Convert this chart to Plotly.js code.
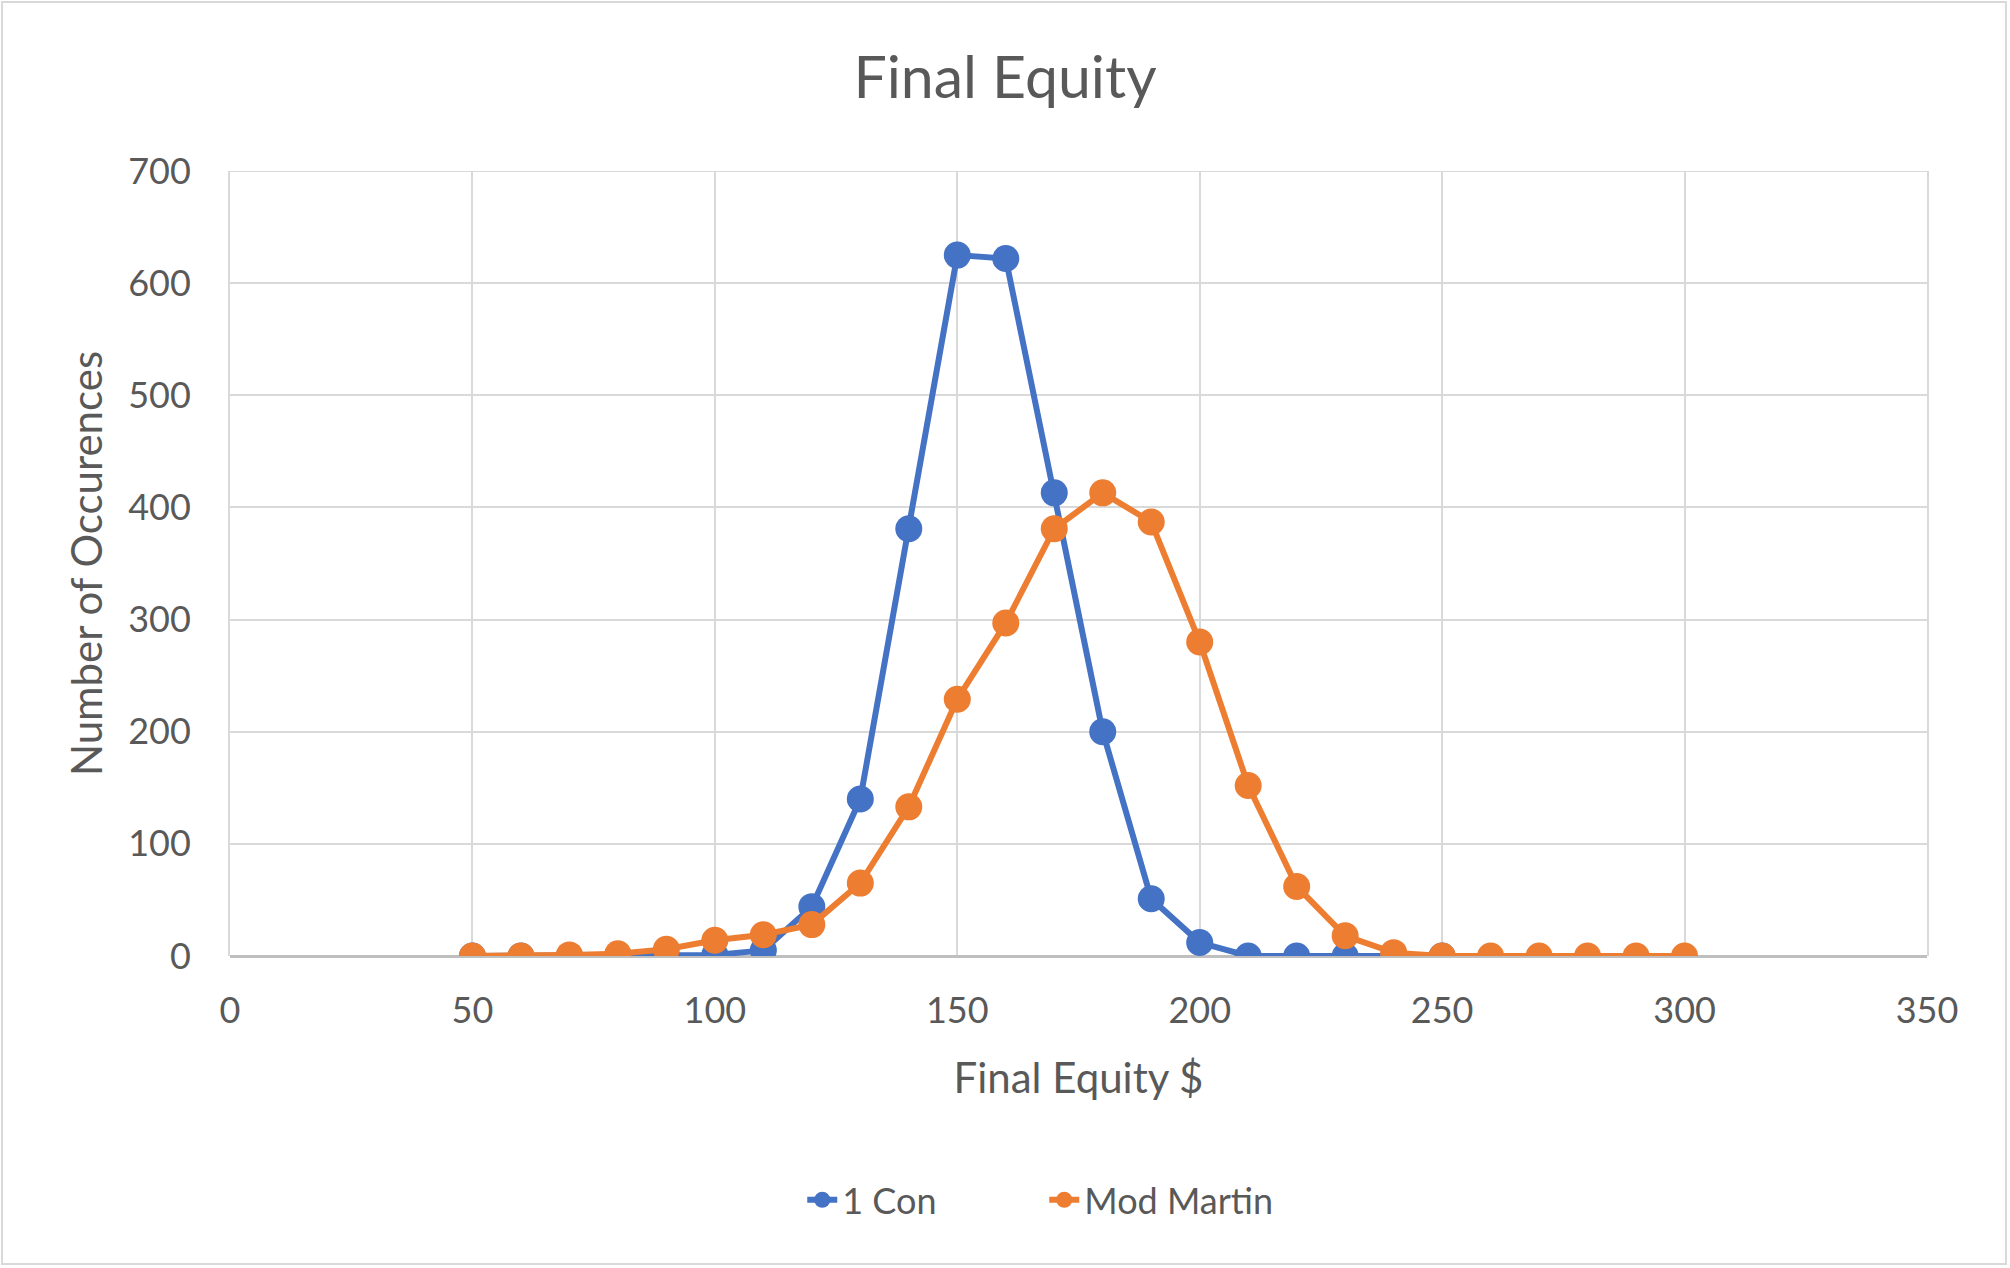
<!DOCTYPE html>
<html>
<head>
<meta charset="utf-8">
<script src="https://cdn.plot.ly/plotly-3.0.1.min.js"></script>
<style>
  html, body { margin: 0; padding: 0; background: #ffffff; }
  #wrap { position: relative; width: 2010px; height: 1268px; }
  #chart { width: 2010px; height: 1268px; }
  #frame { position: absolute; left: 1px; top: 1px; width: 2006px; height: 1264px;
           border: 2px solid #D9D9D9; box-sizing: border-box; pointer-events: none; }
</style>
</head>
<body>
<div id="wrap">
  <div id="chart"></div>
  <div id="frame"></div>
</div>
<script>
// ---- data ----
const oneConX = [50, 60, 70, 80, 90, 100, 110, 120, 130, 140, 150, 160, 170, 180, 190, 200, 210, 220, 230, 240, 250];
const oneConY = [0, 0, 0, 0, 0, 1, 5, 44, 140, 381, 625, 622, 413, 200, 51, 12, 0, 0, 0, 0, 0];
const modMartinX = [50, 60, 70, 80, 90, 100, 110, 120, 130, 140, 150, 160, 170, 180, 190, 200, 210, 220, 230, 240, 250, 260, 270, 280, 290, 300];
const modMartinY = [0, 0, 1, 2, 6, 14, 19, 28, 65, 133, 229, 297, 381, 413, 387, 280, 152, 62, 18, 3, 0, 0, 0, 0, 0, 0];
const seriesNames = ["1 Con", "Mod Martin"];
const chartTitle = "Final Equity";
const xTitle = "Final Equity $";
const yTitle = "Number of Occurences";
const xRange = [0, 350];
const yRange = [0, 700];

const FONT = "Lato, 'Open Sans', sans-serif";
const TXT = "#595959";

const traces = [
  {
    x: oneConX, y: oneConY, name: seriesNames[0], type: "scatter", mode: "lines+markers",
    line: { color: "#4472C4", width: 6 },
    marker: { color: "#4472C4", size: 27 }
  },
  {
    x: modMartinX, y: modMartinY, name: seriesNames[1], type: "scatter", mode: "lines+markers",
    line: { color: "#ED7D31", width: 6 },
    marker: { color: "#ED7D31", size: 27 }
  }
];

const layout = {
  width: 2010, height: 1268,
  paper_bgcolor: "#ffffff", plot_bgcolor: "#ffffff",
  font: { family: FONT, color: TXT, size: 36 },
  margin: { l: 229.5, r: 83, t: 170.5, b: 312 },
  title: { text: chartTitle, font: { family: FONT, size: 59, color: TXT },
           x: 0.5, xref: "container", xanchor: "center",
           y: 1 - 77 / 1268, yref: "container", yanchor: "middle" },
  xaxis: {
    range: xRange, dtick: 50, tick0: 0,
    showgrid: true, gridcolor: "#D9D9D9", gridwidth: 2,
    zeroline: false, showline: false,
    ticks: "", ticklabelstandoff: 30,
    tickfont: { family: FONT, size: 36, color: TXT },
    title: { text: xTitle, font: { family: FONT, size: 42, color: TXT }, standoff: 33 }
  },
  yaxis: {
    range: yRange, dtick: 100, tick0: 0,
    showgrid: true, gridcolor: "#D9D9D9", gridwidth: 2,
    zeroline: true, zerolinecolor: "#BFBFBF", zerolinewidth: 3,
    showline: true, mirror: true, linecolor: "#D9D9D9", linewidth: 2, layer: "below traces",
    ticks: "", ticklabelstandoff: 30,
    tickfont: { family: FONT, size: 36, color: TXT },
    title: { text: yTitle, font: { family: FONT, size: 42, color: TXT }, standoff: 12 }
  },
  shapes: [
    { type: "line", xref: "paper", yref: "y", x0: 0, x1: 1, y0: yRange[1], y1: yRange[1],
      line: { color: "#D9D9D9", width: 2 }, layer: "below" }
  ],
  showlegend: true,
  legend: {
    orientation: "h", x: (1044 - 229.5) / 1697.5, xanchor: "center",
    y: (956 - 1200) / 785.5, yanchor: "middle",
    font: { family: FONT, size: 36, color: TXT },
    bgcolor: "rgba(0,0,0,0)", entrywidth: 197, entrywidthmode: "pixels"
  }
};

Plotly.newPlot("chart", traces, layout, { displayModeBar: false, staticPlot: true });
</script>
</body>
</html>
